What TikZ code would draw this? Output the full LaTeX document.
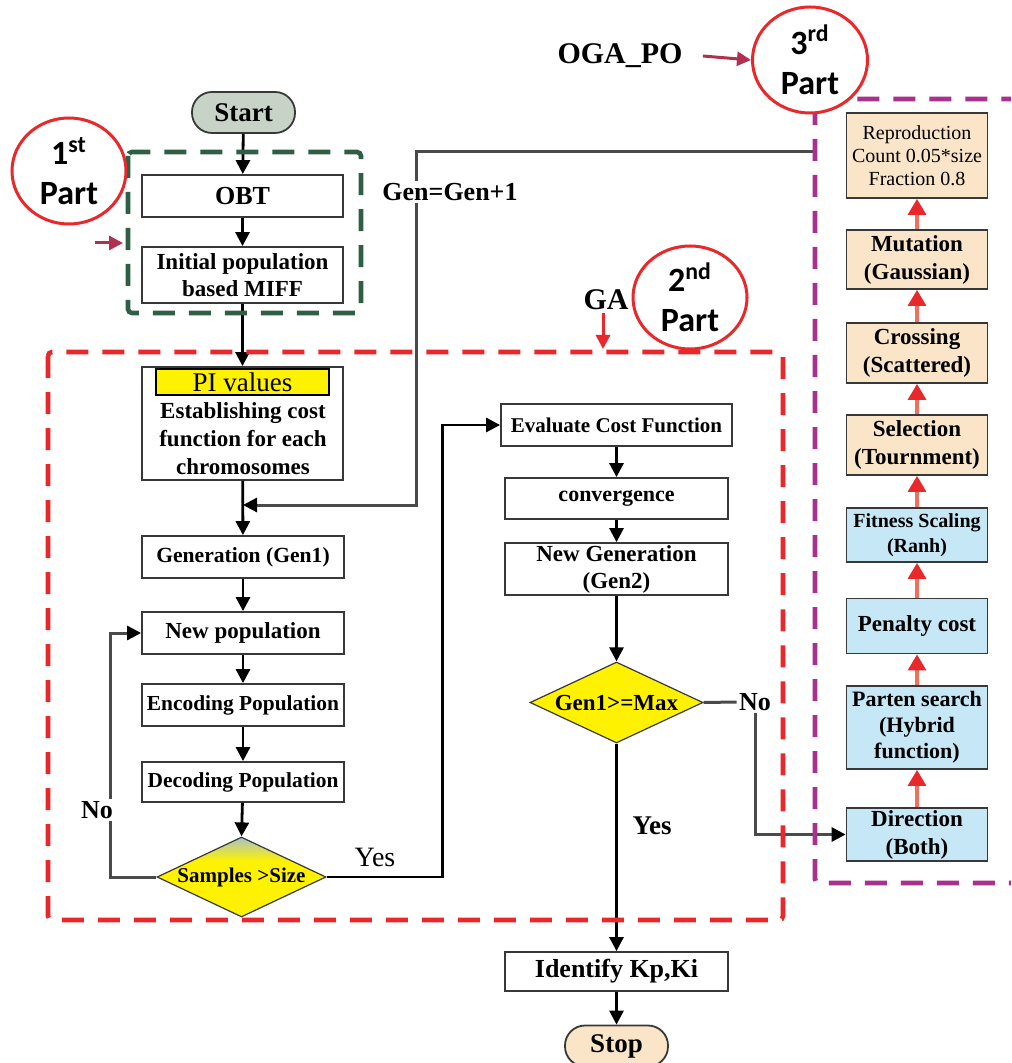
\documentclass[tikz,border=0pt]{standalone}
\usepackage{fontspec}
\setmainfont{Liberation Serif}
\newfontfamily\partfont{Carlito}
\usetikzlibrary{arrows.meta,shapes.geometric}

\definecolor{boxline}{HTML}{383838}
\definecolor{startfill}{HTML}{C8D3C8}
\definecolor{peach}{HTML}{FBE5C9}
\definecolor{skyfill}{HTML}{C6E7F6}
\definecolor{dashred}{HTML}{E8282B}
\definecolor{dashgreen}{HTML}{2E5E44}
\definecolor{dashpurple}{HTML}{A8308F}
\definecolor{crimson}{HTML}{B2304F}
\definecolor{flowyellow}{HTML}{FFF200}
\definecolor{loopgray}{HTML}{4A4A4A}
\definecolor{upline}{HTML}{F0705F}
\definecolor{shadetop}{HTML}{A9C2C6}

% yellow decision fill that greys out towards its top tip
\pgfdeclareverticalshading{samplesshade}{100bp}{%
  color(0bp)=(flowyellow); color(60bp)=(flowyellow);
  color(75bp)=(shadetop); color(100bp)=(shadetop)}

\begin{document}
\begin{tikzpicture}[x=0.5pt,y=-0.5pt,
  sz/.style 2 args={minimum width=#1*0.5pt,minimum height=#2*0.5pt},
  fs/.style 2 args={font=\fontsize{#1}{#2}\selectfont\bfseries},
  fr/.style 2 args={font=\fontsize{#1}{#2}\selectfont},
  bx/.style={draw=boxline,line width=0.9pt,fill=white,inner sep=0pt,align=center},
  terminal/.style={bx,rounded corners=10pt},
  decision/.style={diamond,draw=boxline,line width=0.6pt,fill=flowyellow,inner sep=0pt},
  lbl/.style={inner sep=1pt,align=center},
  flow/.style={draw=black,line width=1.4pt,-{Triangle[length=7pt,width=7pt]}},
  retline/.style={draw=loopgray,line width=1.5pt},
  retarrow/.style={retline,-{Triangle[length=7pt,width=7pt,color=black]}},
  upflow/.style={draw=upline,line width=1.6pt,-{Triangle[length=8pt,width=9pt,color=dashred]}},
  zone/.style={line width=2.3pt,dash pattern=on 11pt off 7pt,rounded corners=2pt},
  partmark/.style={ellipse,draw=dashred,line width=1.5pt,fill=white,inner sep=0pt,align=center,
    font=\partfont\bfseries\fontsize{17}{20}\selectfont},
  pointer/.style={draw=crimson,line width=1.5pt,-{Triangle[length=7pt,width=7pt]}},
]
\useasboundingbox (0,0) rectangle (1011,1063);
\clip (0,0) rectangle (1011,1063);

% ---------- main column ----------
\node[terminal,fill=startfill,sz={103}{41},fs={13.5}{15}] (start) at (243.5,112.5) {Start};
\node[bx,sz={201}{42},fs={13}{15}] (obt) at (242.5,196) {OBT};
\node[bx,sz={201}{56},fs={11.5}{13.5}] (init) at (242.5,275) {Initial population\\based MIFF};
\node[bx,sz={201}{113}] (pi) at (242.5,423.5) {};
\node[draw=black,line width=0.8pt,fill=flowyellow,sz={173}{26},inner sep=0pt,fr={13.5}{15}] (pival) at (242.5,382) {PI values};
\node[lbl,fs={11.5}{14}] (pitext) at (243,439) {Establishing cost\\function for each\\chromosomes};
\node[bx,sz={202}{42},fs={10.8}{13}] (gen1) at (243,557) {Generation (Gen1)};
\node[bx,sz={202}{42},fs={11.5}{13}] (newpop) at (243,633) {New population};
\node[bx,sz={202}{42},fs={10.7}{13}] (enc) at (243,705) {Encoding Population};
\node[bx,sz={202}{40},fs={10.7}{13}] (decod) at (243,782) {Decoding Population};
\node[decision,sz={169}{80},shading=samplesshade] (samp) at (241.5,877) {};
\node[lbl,fs={10.5}{12}] (samptext) at (samp.center) {Samples >Size};

% ---------- second column ----------
\node[bx,sz={231}{42},fs={10.5}{12}] (eval) at (616.5,425) {Evaluate Cost Function};
\node[bx,sz={223}{41},fs={11}{13}] (conv) at (616.5,498.5) {convergence};
\node[bx,sz={223}{52},fs={11.5}{13.5}] (newgen) at (616.5,569) {New Generation\\(Gen2)};
\node[decision,sz={173}{81}] (gmax) at (616.5,702.5) {};
\node[lbl,fs={11.5}{13}] (gmaxtext) at (gmax.center) {Gen1>=Max};
\node[bx,sz={223}{39},fs={13}{15}] (ident) at (616.5,971.5) {Identify Kp,Ki};
\node[terminal,fill=peach,sz={103}{41},fs={13.5}{15}] (stop) at (616.5,1046) {Stop};

% ---------- third column ----------
\node[bx,fill=peach,sz={141}{85},fr={10}{11.5}] (repro) at (917,155.5) {Reproduction\\Count 0.05*size\\Fraction 0.8};
\node[bx,fill=peach,sz={141}{59},fs={11.5}{14}] (mut) at (917,259.5) {Mutation\\(Gaussian)};
\node[bx,fill=peach,sz={141}{60},fs={11.5}{14}] (cross) at (917,353) {Crossing\\(Scattered)};
\node[bx,fill=peach,sz={141}{60},fs={11.5}{14}] (sel) at (917,445) {Selection\\(Tournment)};
\node[bx,fill=skyfill,sz={141}{54},fs={10}{12.5}] (fit) at (917,535) {Fitness Scaling\\(Ranh)};
\node[bx,fill=skyfill,sz={141}{55},fs={11.5}{14}] (pen) at (917,626) {Penalty cost};
\node[bx,fill=skyfill,sz={141}{83},fs={11}{13}] (part) at (917,727.5) {Parten search\\(Hybrid\\function)};
\node[bx,fill=skyfill,sz={141}{53},fs={11.5}{14}] (dir) at (917,834.5) {Direction\\(Both)};

% ---------- main flow ----------
\draw[flow] (start) -- (obt);
\draw[flow] (obt) -- (init);
\draw[flow] (init) -- (pi);
\draw[flow] (pi) -- (gen1);
\draw[flow] (gen1) -- (newpop);
\draw[flow] (newpop) -- (enc);
\draw[flow] (enc) -- (decod);
\draw[flow] (decod) -- (samp.north);
\draw[flow] (eval) -- (conv);
\draw[flow] (conv) -- (newgen);
\draw[flow] (newgen) -- (gmax.north);
\draw[flow] (gmax.south) -- (ident);
\draw[flow] (ident) -- (stop);

\draw[upflow] (dir) -- (part);
\draw[upflow] (part) -- (pen);
\draw[upflow] (pen) -- (fit);
\draw[upflow] (fit) -- (sel);
\draw[upflow] (sel) -- (cross);
\draw[upflow] (cross) -- (mut);
\draw[upflow] (mut) -- (repro);

% ---------- loops and branches ----------
\coordinate (genfrom) at (815,152);
\coordinate (joinpt) at (243,505);
\draw[retarrow] (genfrom) -- ++(-399,0) |- (joinpt);
\node[lbl,fill=white,fs={13}{15}] (genlabel) at (450,192) {Gen=Gen+1};

\draw[retarrow] (samp.west) -- ++(-46,0) |- (newpop.west);
\node[lbl,fill=white,fs={13}{15}] (nolabel) at (97,810) {No};

\draw[flow] (samp.east) -- ++(116,0) |- (eval.west);
\node[lbl,fr={14}{16}] (yeslabel) at (375,857) {Yes};

\node[lbl,fs={13}{15}] (noR) at (755,702) {No};
\draw[retline] (gmax.east) -- (noR.west);
\draw[retarrow] (noR.south) |- (dir.west);
\node[lbl,fs={13.5}{15}] (yesR) at (652,826) {Yes};

% ---------- part regions ----------
\draw[zone,draw=dashgreen] (128,152) rectangle (361,313);
\draw[zone,draw=dashred] (48,352) rectangle (783,920);
\draw[zone,draw=dashpurple] (815,99) rectangle (1040,883);

% ---------- part markers ----------
\node[partmark,sz={114}{106}] (p1) at (69,171) {1\textsuperscript{st}\\Part};
\node[partmark,sz={114}{103}] (p2) at (690,297.5) {2\textsuperscript{nd}\\Part};
\node[partmark,sz={115}{106}] (p3) at (810,60) {3\textsuperscript{rd}\\Part};

\node[lbl,fs={15}{17}] (ogapo) at (620,56) {OGA\_PO};
\draw[pointer] ([xshift=9pt]ogapo.east) -- (p3.west);

\node[lbl,fs={15}{17}] (ga) at (606,300) {GA};
\coordinate (gatip) at (603,349);
\draw[draw=dashred,line width=1.5pt,-{Triangle[length=7pt,width=7pt]}] (603,313) -- (gatip);

\coordinate (ticktail) at (95,243);
\coordinate (tickhead) at (123,243);
\draw[pointer] (ticktail) -- (tickhead);
\end{tikzpicture}
\end{document}
